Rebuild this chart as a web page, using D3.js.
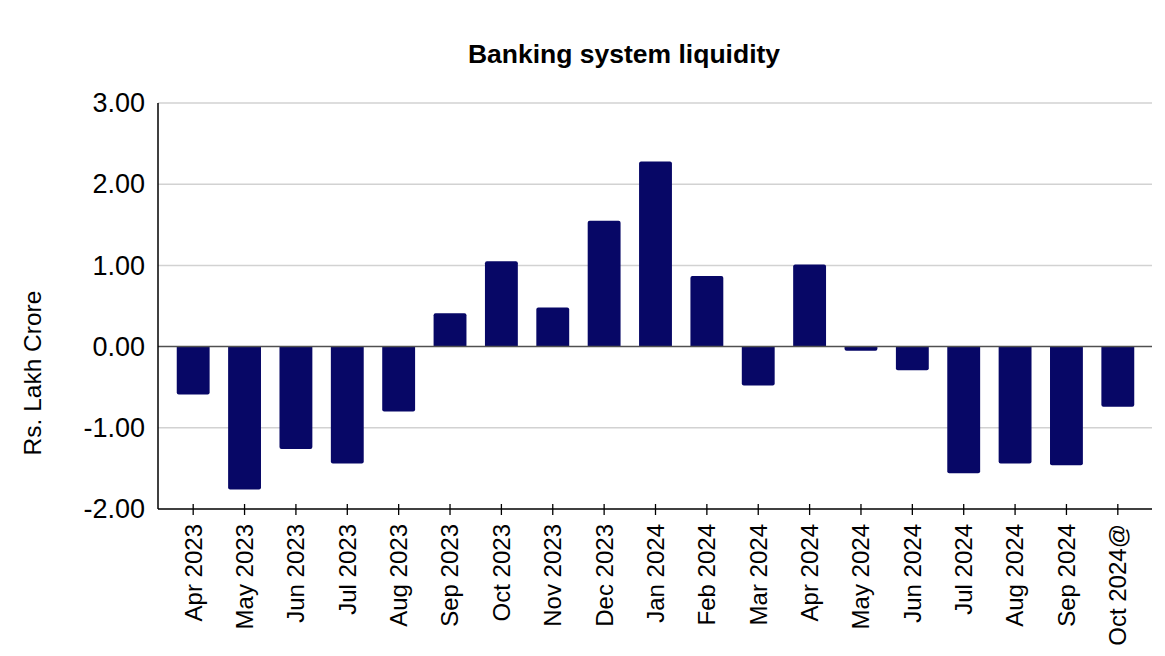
<!DOCTYPE html>
<html>
<head>
<meta charset="utf-8">
<script src="https://cdn.jsdelivr.net/npm/d3@7"></script>
<style>
  html, body { margin: 0; padding: 0; background: #fff; }
  svg { display: block; font-family: "Liberation Sans", Arial, sans-serif; }
</style>
</head>
<body>
<svg id="chart" width="1165" height="656"></svg>
<script>
// Monthly banking system liquidity (Rs. lakh crore)
const months = ["Apr 2023", "May 2023", "Jun 2023", "Jul 2023", "Aug 2023", "Sep 2023",
  "Oct 2023", "Nov 2023", "Dec 2023", "Jan 2024", "Feb 2024", "Mar 2024", "Apr 2024",
  "May 2024", "Jun 2024", "Jul 2024", "Aug 2024", "Sep 2024", "Oct 2024@"];
const liquidity = [-0.59, -1.76, -1.26, -1.44, -0.80, 0.41, 1.05, 0.48, 1.55, 2.28,
  0.87, -0.48, 1.01, -0.05, -0.29, -1.56, -1.44, -1.46, -0.74];
const yTicks = [3, 2, 1, 0, -1, -2];

const title = "Banking system liquidity";
const yTitle = "Rs. Lakh Crore";

const svg = d3.select("#chart");
const plot = { left: 158, right: 1152, top: 103, bottom: 509 };

const y = d3.scaleLinear().domain([-2, 3]).range([plot.bottom, plot.top]);
const x = d3.scaleBand().domain(months).range([167.5, 1143.5]).paddingInner(0.36).paddingOuter(0.18);

// Horizontal gridlines
svg.append("g").selectAll("line").data(yTicks.filter(d => d !== 0 && d !== -2)).join("line")
  .attr("x1", plot.left).attr("x2", plot.right)
  .attr("y1", d => y(d)).attr("y2", d => y(d))
  .attr("stroke", "#d2d2d2").attr("stroke-width", 1.5);

// Bars with slightly rounded outer corners
const r = 2;
function barPath(d, i) {
  const x0 = x(months[i]), w = x.bandwidth();
  const y0 = y(0), y1 = y(d);
  if (d >= 0) {
    return `M${x0},${y0}V${y1 + r}Q${x0},${y1} ${x0 + r},${y1}H${x0 + w - r}Q${x0 + w},${y1} ${x0 + w},${y1 + r}V${y0}Z`;
  }
  const rr = Math.min(r, (y1 - y0) / 2);
  return `M${x0},${y0}V${y1 - rr}Q${x0},${y1} ${x0 + rr},${y1}H${x0 + w - rr}Q${x0 + w},${y1} ${x0 + w},${y1 - rr}V${y0}Z`;
}
svg.append("g").selectAll("path").data(liquidity).join("path")
  .attr("d", barPath)
  .attr("fill", "#070766");

// Zero line
svg.append("line")
  .attr("x1", plot.left).attr("x2", plot.right)
  .attr("y1", y(0)).attr("y2", y(0))
  .attr("stroke", "#505050").attr("stroke-width", 1.5);

// Y axis: line plus labels, no tick marks; plain hyphen for negatives
const fmt = d => d3.format(".2f")(d).replace("\u2212", "-");
const yAxis = svg.append("g").attr("transform", `translate(${plot.left},0)`)
  .call(d3.axisLeft(y).tickValues(yTicks).tickFormat(fmt).tickSize(0).tickPadding(13));
yAxis.select(".domain").attr("stroke", "#000").attr("stroke-width", 1.5).attr("d", `M0,${plot.top}V${plot.bottom}`);
yAxis.selectAll("text").attr("font-size", 27).attr("fill", "#000")
  .attr("font-family", "'Liberation Sans', Arial, sans-serif");

// X axis at the bottom with crossing tick marks and rotated labels
const xAxis = svg.append("g").attr("transform", `translate(0,${plot.bottom})`)
  .call(d3.axisBottom(x).tickSizeInner(6).tickSizeOuter(0));
xAxis.select(".domain").attr("stroke", "#000").attr("stroke-width", 1.5)
  .attr("d", `M${plot.left},0H${plot.right}`);
xAxis.selectAll(".tick line").attr("stroke", "#000").attr("stroke-width", 1.3).attr("y1", -5).attr("y2", 6);
xAxis.selectAll(".tick text")
  .attr("font-size", 24).attr("fill", "#000")
  .attr("font-family", "'Liberation Sans', Arial, sans-serif")
  .attr("transform", "rotate(-90)")
  .attr("text-anchor", "end")
  .attr("dy", "0.35em")
  .attr("x", -15).attr("y", 0);

// Titles
svg.append("text")
  .attr("x", 624).attr("y", 63)
  .attr("text-anchor", "middle")
  .attr("font-size", 26.5).attr("font-weight", "bold")
  .text(title);

svg.append("text")
  .attr("transform", "translate(41,373) rotate(-90)")
  .attr("text-anchor", "middle")
  .attr("font-size", 24.5)
  .text(yTitle);
</script>
</body>
</html>
